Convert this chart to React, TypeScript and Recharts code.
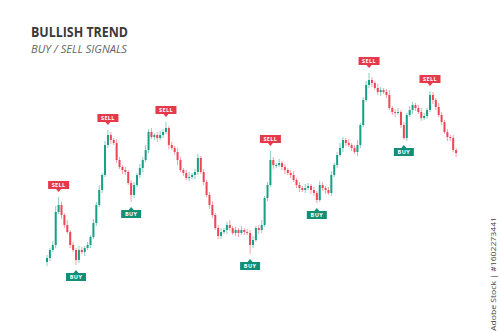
import { ComposedChart, Bar, XAxis, YAxis } from "recharts";

// closing prices, one per candle (open = previous close)
const CLOSES = [
  42, 50, 55, 88, 95, 85, 75, 68, 55, 50,
  40, 50, 48, 52, 55, 63, 77, 95, 110, 125,
  155, 165, 160, 157, 140, 133, 130, 128, 117, 105,
  115, 125, 132, 140, 150, 168, 163, 165, 162, 165,
  168, 172, 155, 152, 148, 140, 130, 127, 122, 123,
  125, 128, 142, 128, 118, 105, 95, 85, 72, 64,
  68, 70, 75, 72, 67, 70, 67, 70, 68, 67,
  55, 60, 72, 70, 75, 102, 115, 140, 135, 135,
  137, 133, 130, 127, 125, 120, 115, 112, 110, 112,
  114, 110, 107, 100, 115, 112, 110, 107, 125, 135,
  145, 152, 160, 157, 155, 152, 148, 155, 175, 200,
  215, 220, 217, 212, 208, 210, 208, 205, 192, 188,
  187, 188, 175, 162, 185, 190, 195, 192, 188, 182,
  184, 190, 205, 200, 193, 185, 178, 168, 163, 162,
  150, 147,
];
const FIRST_OPEN = 38;

// wick lengths above / below the body
const UP_WICKS = [
  3, 2, 4, 6, 8, 3, 2, 5, 2, 3,
  2, 4, 3, 2, 3, 2, 4, 3, 5, 2,
  4, 5, 3, 2, 4, 3, 2, 3, 2, 3,
  3, 2, 4, 3, 5, 3, 4, 2, 3, 4,
  3, 6, 2, 3, 2, 4, 3, 2, 3, 5,
  2, 3, 4, 2, 3, 2, 3, 4, 2, 3,
  4, 2, 3, 5, 2, 3, 2, 4, 2, 3,
  3, 4, 2, 3, 5, 2, 3, 9, 3, 2,
  4, 2, 3, 2, 3, 4, 2, 3, 2, 4,
  3, 2, 3, 2, 4, 3, 2, 3, 4, 2,
  3, 5, 3, 2, 4, 2, 3, 5, 2, 3,
  4, 7, 3, 2, 4, 3, 2, 3, 5, 2,
  3, 4, 2, 3, 2, 4, 3, 2, 3, 4,
  3, 2, 4, 3, 2, 4, 3, 2, 3, 2,
  3, 2,
];
const LOW_WICKS = [
  4, 3, 2, 3, 2, 4, 3, 2, 3, 2,
  5, 3, 2, 4, 2, 3, 2, 3, 2, 3,
  2, 3, 4, 2, 3, 2, 4, 3, 2, 7,
  3, 2, 3, 4, 2, 3, 2, 3, 4, 2,
  3, 2, 4, 2, 3, 5, 2, 3, 2, 3,
  2, 4, 3, 2, 3, 2, 4, 3, 2, 3,
  3, 2, 4, 3, 2, 3, 4, 2, 3, 2,
  9, 3, 2, 4, 3, 2, 3, 2, 4, 3,
  2, 3, 4, 2, 3, 2, 3, 4, 2, 3,
  2, 4, 3, 3, 2, 3, 4, 2, 3, 2,
  3, 2, 4, 3, 2, 3, 2, 4, 3, 2,
  2, 3, 4, 2, 3, 4, 2, 3, 2, 3,
  4, 2, 3, 2, 3, 2, 4, 3, 2, 3,
  2, 3, 2, 4, 3, 2, 3, 2, 4, 3,
  2, 4,
];

// candle indexes carrying a signal tag
const SELL_AT = [4, 21, 41, 77, 111, 132];
const BUY_AT = [10, 29, 70, 93, 123];

const GREEN = "#16a086";
const RED = "#ef4556";
const TAG_RED = "#e63a4b";
const TAG_GREEN = "#138f78";

const data = CLOSES.map((close, i) => {
  const open = i === 0 ? FIRST_OPEN : CLOSES[i - 1];
  return {
    idx: i,
    open,
    close,
    high: Math.max(open, close) + UP_WICKS[i],
    low: Math.min(open, close) - LOW_WICKS[i],
    signal: SELL_AT.includes(i) ? "sell" : BUY_AT.includes(i) ? "buy" : null,
  };
});

const Tag = ({ cx, cy, kind }: { cx: number; cy: number; kind: string }) => {
  const sell = kind === "sell";
  const w = sell ? 21 : 20;
  const h = 8;
  const fill = sell ? TAG_RED : TAG_GREEN;
  const tri = sell
    ? `${cx - 2.5},${cy + h / 2} ${cx + 2.5},${cy + h / 2} ${cx},${cy + h / 2 + 3}`
    : `${cx - 2.5},${cy - h / 2} ${cx + 2.5},${cy - h / 2} ${cx},${cy - h / 2 - 3}`;
  return (
    <g>
      <rect x={cx - w / 2} y={cy - h / 2} width={w} height={h} fill={fill} />
      <polygon points={tri} fill={fill} />
      <text
        x={cx}
        y={cy + 2}
        textAnchor="middle"
        fontSize={5.5}
        fontWeight={700}
        fontFamily="Open Sans, sans-serif"
        letterSpacing={0.4}
        fill="#fff"
      >
        {sell ? "SELL" : "BUY"}
      </text>
    </g>
  );
};

const Candle = (props: any) => {
  const { x, y, width, height, payload } = props;
  const { open, close, high, low, signal } = payload;
  const top = Math.min(y, y + height);
  const span = Math.abs(height);
  const k = span / (high - low);
  const py = (v: number) => top + (high - v) * k;
  const up = close >= open;
  const color = up ? GREEN : RED;
  const cx = x + width / 2;
  const bodyTop = py(Math.max(open, close));
  const bodyH = Math.max(1, Math.abs(close - open) * k);
  return (
    <g>
      <line x1={cx} x2={cx} y1={top} y2={top + span} stroke={color} strokeOpacity={0.5} strokeWidth={1} />
      <rect x={cx - 1} y={bodyTop} width={2} height={bodyH} fill={color} />
      {signal === "sell" && <Tag cx={cx} cy={top - 12} kind="sell" />}
      {signal === "buy" && <Tag cx={cx} cy={top + span + 12} kind="buy" />}
    </g>
  );
};

export default function App() {
  return (
    <div style={{ position: "relative", width: 500, height: 334, background: "#fff" }}>
      <style>{`body{margin:0}`}</style>
      <ComposedChart width={500} height={334} data={data} margin={{ top: 40, right: 42, bottom: 34, left: 46 }}>
        <XAxis dataKey="idx" hide />
        <YAxis hide domain={[0, 260]} allowDataOverflow />
        <Bar
          dataKey={(d: any) => [d.low, d.high]}
          barSize={2}
          shape={Candle}
          isAnimationActive={false}
        />
      </ComposedChart>
      <svg width={500} height={334} style={{ position: "absolute", left: 0, top: 0, pointerEvents: "none" }}>
        <text
          x={31}
          y={37}
          fontSize={14}
          fontWeight={700}
          fontFamily="Open Sans, sans-serif"
          fill="#3a3a3a"
          textLength={97}
          lengthAdjust="spacingAndGlyphs"
        >
          BULLISH TREND
        </text>
        <text
          x={31}
          y={53}
          fontSize={11.5}
          fontStyle="italic"
          fontFamily="Open Sans, sans-serif"
          fill="#666"
          textLength={96}
          lengthAdjust="spacingAndGlyphs"
        >
          BUY / SELL SIGNALS
        </text>
        <text
          transform="translate(496,331) rotate(-90)"
          fontSize={8}
          fontFamily="Open Sans, sans-serif"
          fill="#444"
          textLength={114}
          lengthAdjust="spacingAndGlyphs"
        >
          Adobe Stock | #1602273441
        </text>
      </svg>
    </div>
  );
}
